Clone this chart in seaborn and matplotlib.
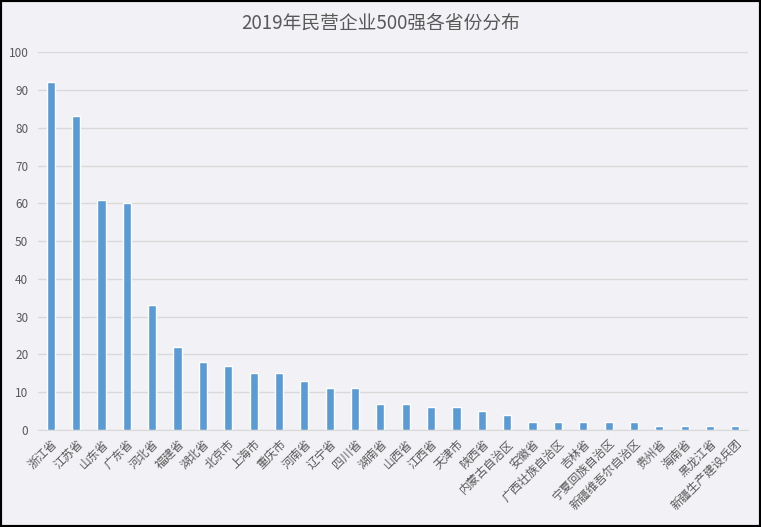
import numpy as np
import pandas as pd
import matplotlib
matplotlib.use("Agg")
import matplotlib.pyplot as plt
import seaborn as sns

# 省份与入围企业数量
provinces = ["浙江省", "江苏省", "山东省", "广东省", "河北省", "福建省", "湖北省",
             "北京市", "上海市", "重庆市", "河南省", "辽宁省", "四川省", "湖南省",
             "山西省", "江西省", "天津市", "陕西省", "内蒙古自治区", "安徽省",
             "广西壮族自治区", "吉林省", "宁夏回族自治区", "新疆维吾尔自治区",
             "贵州省", "海南省", "黑龙江省", "新疆生产建设兵团"]
counts = [92, 83, 61, 60, 33, 22, 18, 17, 15, 15, 13, 11, 11, 7,
          7, 6, 6, 5, 4, 2, 2, 2, 2, 2, 1, 1, 1, 1]
yticks = [0, 10, 20, 30, 40, 50, 60, 70, 80, 90, 100]

df = pd.DataFrame({"省份": provinces, "数量": counts})

sns.set_style("white")
plt.rcParams['font.family'] = ['Noto Sans CJK SC', 'DejaVu Sans']

bg = "#f2f1f5"
fig = plt.figure(figsize=(7.61, 5.27), dpi=100, facecolor=bg)
ax = fig.add_axes([0.05, 0.184, 0.933, 0.717])
ax.set_facecolor(bg)

sns.barplot(data=df, x="省份", y="数量", color="#5b9bd5", width=0.32,
            saturation=1, ax=ax, zorder=3)

ax.set_xlim(-0.5, len(provinces) - 0.5)
ax.set_ylim(0, 100)
ax.set_yticks(yticks)
ax.yaxis.grid(True, color="#d9d9d9", linewidth=1, zorder=0)
ax.set_axisbelow(True)
for s in ["left", "right", "top"]:
    ax.spines[s].set_visible(False)
ax.spines["bottom"].set_color("#d9d9d9")

ax.tick_params(axis="both", length=0, labelsize=8.5, labelcolor="#595959")
ax.tick_params(axis="y", pad=7)
ax.tick_params(axis="x", pad=5)
plt.setp(ax.get_xticklabels(), rotation=45, ha="right", rotation_mode="anchor")
ax.set_xlabel("")
ax.set_ylabel("")

fig.text(0.5, 0.955, "2019年民营企业500强各省份分布", ha="center", va="center",
         fontsize=13.5, color="#595959")

# 外框
fig.patches.append(plt.Rectangle((0, 0), 1, 1, transform=fig.transFigure,
                                 fill=False, edgecolor="black", linewidth=3))

fig.savefig("out.png", dpi=100, facecolor=bg)
